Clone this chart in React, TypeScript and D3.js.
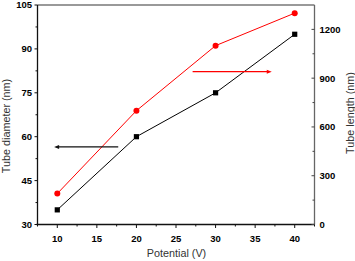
import React from 'react';
import * as d3 from 'd3';

// data
const potential = [10, 20, 30, 40];
const diameter = [35, 60, 75, 95];
const length = [190, 700, 1100, 1300];

const xTicks = [10, 15, 20, 25, 30, 35, 40];
const leftTicks = [30, 45, 60, 75, 90, 105];
const rightTicks = [0, 300, 600, 900, 1200];

// arrows pointing at the axis each series belongs to
const blackArrow = { from: 17.7, to: 9.6, at: 56.5 };
const redArrow = { from: 27.1, to: 37.1, at: 940 };

export default function App() {
  const W = 355, H = 261;
  const m = { left: 37.5, right: 314.5, top: 5, bottom: 224.5 };

  const x = d3.scaleLinear().domain([7.5, 42.5]).range([m.left, m.right]);
  const yL = d3.scaleLinear().domain([30, 105]).range([m.bottom, m.top]);
  const yR = d3.scaleLinear().domain([0, 1350]).range([m.bottom, m.top]);

  const lineD = d3.line<number>().x((_, i) => x(potential[i])).y(d => yL(d));
  const lineR = d3.line<number>().x((_, i) => x(potential[i])).y(d => yR(d));

  const xMinor = d3.range(7.5, 42.6, 2.5).filter(v => !xTicks.includes(v));
  const lMinor = d3.range(37.5, 105, 15);
  const rMinor = d3.range(150, 1350, 300);

  const tickFont = { fontFamily: 'Liberation Sans, Arial, sans-serif', fontSize: 9.5, fontWeight: 700 as const };
  const titleFont = { fontFamily: 'Liberation Sans, Arial, sans-serif', fontSize: 10.8, fill: '#333' };

  const ba = { x1: x(blackArrow.from), x2: x(blackArrow.to), y: yL(blackArrow.at) };
  const ra = { x1: x(redArrow.from), x2: x(redArrow.to), y: yR(redArrow.at) };

  return (
    <svg width={W} height={H} style={{ position: 'absolute', left: 0, top: 0, background: '#fff' }}>
      {/* frame */}
      <line x1={m.left} x2={m.right} y1={m.top} y2={m.top} stroke="#777" strokeWidth={1.5} />
      <line x1={m.right} x2={m.right} y1={m.top} y2={m.bottom} stroke="#666" strokeWidth={1.3} />
      <line x1={m.left} x2={m.left} y1={m.top} y2={m.bottom} stroke="#111" strokeWidth={1.3} />
      <line x1={m.left - 1} x2={m.right} y1={m.bottom} y2={m.bottom} stroke="#111" strokeWidth={1.3} />

      {/* bottom axis */}
      {xTicks.map(t => (
        <g key={'x' + t}>
          <line x1={x(t)} x2={x(t)} y1={m.bottom} y2={m.bottom + 3.5} stroke="#111" />
          <text x={x(t)} y={241.5} textAnchor="middle" {...tickFont}>{t}</text>
        </g>
      ))}
      {xMinor.map(t => (
        <line key={'xm' + t} x1={x(t)} x2={x(t)} y1={m.bottom} y2={m.bottom + 2} stroke="#111" />
      ))}

      {/* left axis */}
      {leftTicks.map(t => (
        <g key={'l' + t}>
          <line x1={m.left - 3} x2={m.left} y1={yL(t)} y2={yL(t)} stroke="#111" />
          <text x={32} y={yL(t) + 3.4} textAnchor="end" {...tickFont}>{t}</text>
        </g>
      ))}
      {lMinor.map(t => (
        <line key={'lm' + t} x1={m.left - 2} x2={m.left} y1={yL(t)} y2={yL(t)} stroke="#111" />
      ))}

      {/* right axis */}
      {rightTicks.map(t => (
        <g key={'r' + t}>
          <line x1={m.right - 3} x2={m.right} y1={yR(t)} y2={yR(t)} stroke="#444" />
          <text x={319.5} y={yR(t) + 3.4} textAnchor="start" {...tickFont}>{t}</text>
        </g>
      ))}
      {rMinor.map(t => (
        <line key={'rm' + t} x1={m.right - 2} x2={m.right} y1={yR(t)} y2={yR(t)} stroke="#444" />
      ))}

      {/* titles */}
      <text x={176.5} y={257} textAnchor="middle" {...titleFont}>Potential (V)</text>
      <text transform={`translate(9.5,126) rotate(-90)`} textAnchor="middle" {...titleFont}>Tube diameter (nm)</text>
      <text transform={`translate(353.5,113) rotate(-90)`} textAnchor="middle" {...titleFont}>Tube length (nm)</text>

      {/* series */}
      <path d={lineR(length) || ''} fill="none" stroke="#f00" strokeWidth={1} />
      <path d={lineD(diameter) || ''} fill="none" stroke="#000" strokeWidth={1} />
      {length.map((v, i) => (
        <circle key={'c' + i} cx={x(potential[i])} cy={yR(v)} r={3} fill="#f00" />
      ))}
      {diameter.map((v, i) => (
        <rect key={'s' + i} x={x(potential[i]) - 2.6} y={yL(v) - 2.6} width={5.2} height={5.2} fill="#000" />
      ))}

      {/* arrows */}
      <line x1={ba.x1} x2={ba.x2 + 3} y1={ba.y} y2={ba.y} stroke="#111" strokeWidth={1.2} />
      <path d={`M${ba.x2},${ba.y} l5,-2 l0,4 z`} fill="#111" />
      <line x1={ra.x1} x2={ra.x2 - 3} y1={ra.y} y2={ra.y} stroke="#f00" strokeWidth={1.2} />
      <path d={`M${ra.x2},${ra.y} l-5,-2 l0,4 z`} fill="#f00" />
    </svg>
  );
}
